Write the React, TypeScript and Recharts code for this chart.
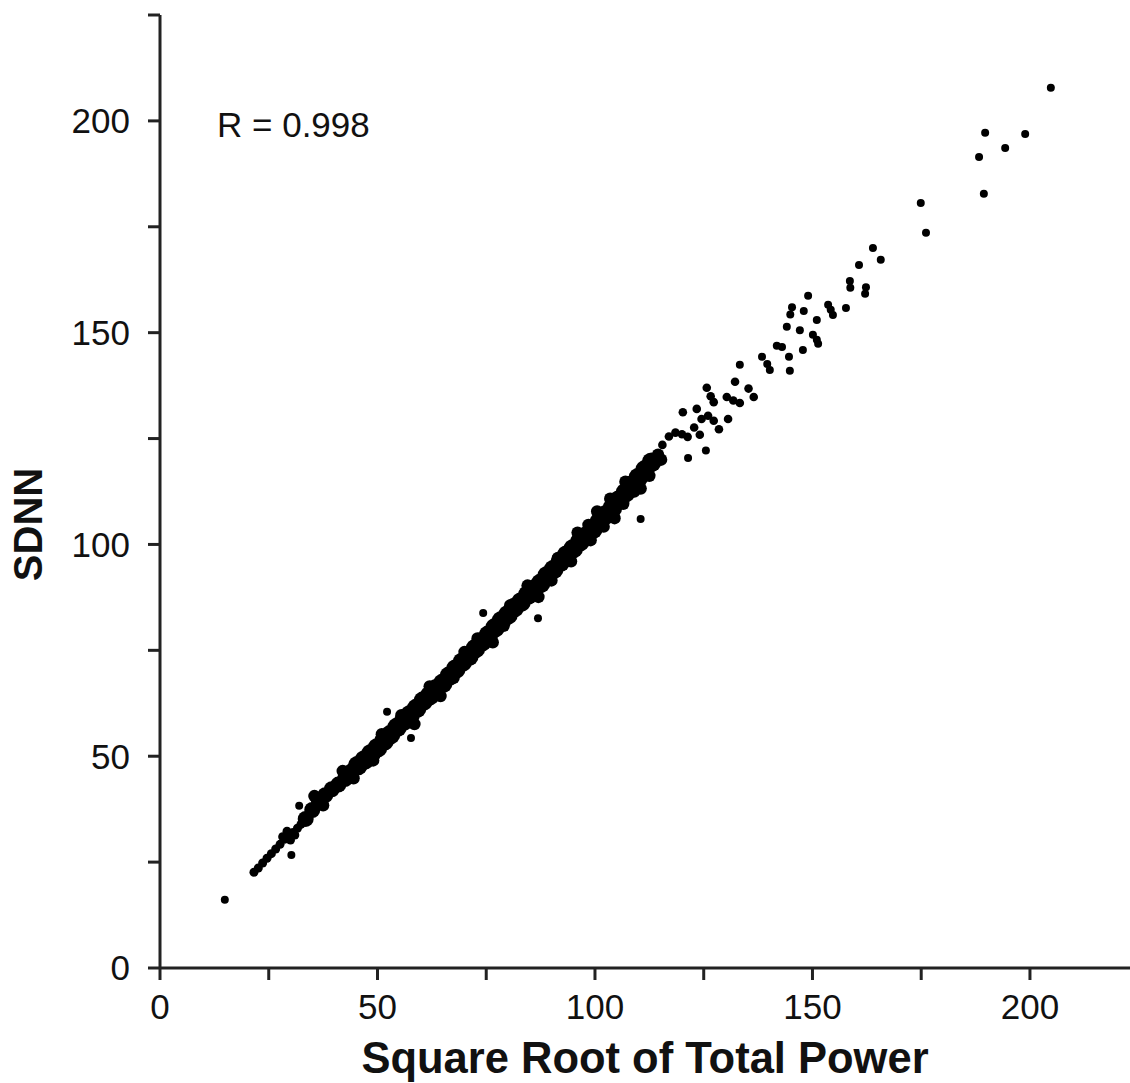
import React from 'react';
import { ScatterChart, Scatter, XAxis, YAxis, Label } from 'recharts';

// Axis tick values
const xTicks = [0, 25, 50, 75, 100, 125, 150, 175, 200];
const yTicks = [0, 25, 50, 75, 100, 125, 150, 175, 200, 225];

// Dense band, thin start
const bandThin: [number, number][] = [
  [21.6, 22.6], [22.6, 23.6], [23.6, 24.8], [24.6, 25.9], [25.6, 27.0], [26.6, 28.1],
  [27.6, 29.2], [28.6, 30.4], [29.6, 31.2], [30.6, 32.0], [31.6, 33.0], [32.4, 33.9],
  [29.2, 32.3], [31.0, 31.4], [28.2, 31.0], [30.0, 30.2],
];

// Dense band, lower body
const bandMid: [number, number][] = [
  [33.5, 35.2], [35, 37.3], [36.5, 39.6], [38, 40.8], [39.5, 42.2], [41, 43.3], [42.5, 44.6],
  [44, 46.4],
];

// Dense band, main body
const bandMain: [number, number][] = [
  [45.5, 47.8], [47, 49.1], [48.5, 50.6], [50, 52.0], [51.5, 53.6], [53, 55.1],
  [54.5, 56.8], [56, 58.3], [57.5, 59.8], [59, 61.3], [60.5, 63.0], [62, 64.3], [63.5, 65.9],
  [65, 67.2], [66.5, 68.9], [68, 70.6], [69.5, 72.2], [71, 73.6], [72.5, 75.4], [74, 77.0],
  [75.5, 78.6], [77, 80.3], [78.5, 82.0], [80, 83.4], [81.5, 85.1], [83, 86.4], [84.5, 88.0],
  [86, 89.4], [87.5, 90.8], [89, 92.6], [90.5, 94.1], [92, 95.8], [93.5, 97.5], [95, 99.0],
  [96.5, 100.6], [98, 102.0], [99.5, 103.6], [101, 105.3], [102.5, 107.0], [104, 108.6],
  [105.5, 110.5], [107, 112.2], [108.5, 114.0], [110, 115.8], [111.5, 117.6], [113, 119.4],
];

// Bumps along the band edges
const bandEdge: [number, number][] = [
  [35.5, 40.6], [37.5, 38.4], [42, 46.5], [44.5, 44.8], [49, 49], [51, 55.2], [55.5, 59.7],
  [58.5, 57.6], [62, 66.5], [64.5, 64.2], [67.5, 68.5], [70, 74.6], [73, 77.8], [76.5, 76.9],
  [79, 80.8], [80.5, 85.6], [84.5, 90.3], [87, 87.6], [90, 91.5], [91.5, 96.8], [96, 102.8],
  [94.5, 96.0], [99, 101], [103.5, 110.8], [104.5, 106.2], [106.5, 109.6], [109, 112.5],
  [100.5, 107.8], [107, 114.8], [110.5, 113.2], [102, 104.2], [98.5, 104.6], [112.5, 116.2],
  [114.5, 121.2], [115.2, 120.0],
];

// Fragmented upper end of the band
const bandUpper: [number, number][] = [
  [115.5, 123.5], [117, 125.5], [118.5, 126.4], [120, 126], [121.3, 125.4], [122.8, 127.6],
  [124.5, 129.6], [126, 130.4], [127.3, 129.2], [128.5, 127.2], [123.4, 132], [120.2, 131.2],
  [124.1, 125.9], [130.6, 129.6], [125.7, 137], [126.6, 135], [127.3, 133.6], [130.3, 134.8],
  [131.8, 134], [133.3, 133.4], [132.2, 138.4], [135.3, 136.8], [136.5, 134.8],
];

// Individual points
const sparse: [number, number][] = [
  [14.9, 16.1], [30.2, 26.7], [32.0, 38.3], [52.2, 60.5], [57.7, 54.3], [74.3, 83.8],
  [86.9, 82.6], [110.5, 106.0], [121.4, 120.4], [125.5, 122.2],
  [133.3, 142.4], [138.4, 144.3], [139.6, 142.6], [140.2, 141.2], [141.8, 146.9], [143.0, 146.6],
  [144.6, 144.3], [144.8, 141.0], [144.1, 151.4], [145.3, 156.0], [144.9, 154.3], [147.1, 150.6],
  [147.8, 145.9], [148.0, 155.1], [149.0, 158.7], [150.1, 149.5], [151.0, 148.3], [151.3, 147.4],
  [151.0, 153.0], [153.6, 156.6], [154.2, 155.4], [154.7, 154.2], [157.7, 155.8], [158.6, 162.2],
  [158.7, 160.6], [160.7, 166.0], [162.3, 160.7], [162.1, 159.2], [163.9, 170.0], [165.7, 167.2],
  [174.9, 180.6], [176.1, 173.6], [188.3, 191.5], [189.4, 182.8], [189.7, 197.2], [194.3, 193.6],
  [198.9, 196.9], [204.8, 207.8],
];

const FONT = '"Liberation Sans", Arial, Helvetica, sans-serif';
const INK = '#111';

const toPts = (arr: [number, number][]) => arr.map(([x, y]) => ({ x, y }));

const dot = (r: number) => (props: any) => (
  <circle cx={props.cx} cy={props.cy} r={r} fill="#000" />
);

const SdnnLabel = (props: any) => {
  const vb = props.viewBox || { x: 0, y: 0, width: 0, height: 0 };
  const cx = vb.x + 28;
  const cy = vb.y + vb.height / 2 + 33;
  return (
    <text
      x={cx}
      y={cy}
      transform={`rotate(-90 ${cx} ${cy})`}
      textAnchor="middle"
      dominantBaseline="central"
      fontFamily={FONT}
      fontWeight="bold"
      fontSize={40}
      fill={INK}
    >
      SDNN
    </text>
  );
};

const fmt50 = (v: number) => (v % 50 === 0 && v <= 200 ? String(v) : '');

export default function App() {
  const axisStroke = { stroke: '#222', strokeWidth: 3 };
  const tickStyle = { fontSize: 35, fill: INK, fontFamily: FONT };
  return (
    <div style={{ position: 'absolute', left: 0, top: 0, width: 1130, height: 1083, background: '#fff' }}>
      <ScatterChart width={1130} height={1083} margin={{ top: 15, right: 0, bottom: 0, left: 0 }}>
        <XAxis
          type="number"
          dataKey="x"
          domain={[0, 223]}
          ticks={xTicks}
          interval={0}
          allowDataOverflow
          height={115}
          tickSize={12}
          tickMargin={14}
          tickFormatter={fmt50}
          tick={tickStyle}
          axisLine={axisStroke}
          tickLine={axisStroke}
        >
          <Label
            value="Square Root of Total Power"
            position="insideBottom"
            offset={10}
            style={{ fontSize: 43.5, fontWeight: 'bold', fontFamily: FONT, fill: INK }}
          />
        </XAxis>
        <YAxis
          type="number"
          dataKey="y"
          domain={[0, 225]}
          ticks={yTicks}
          interval={0}
          allowDataOverflow
          width={160}
          tickSize={12}
          tickMargin={18}
          tickFormatter={fmt50}
          tick={tickStyle}
          axisLine={axisStroke}
          tickLine={axisStroke}
        >
          <Label content={SdnnLabel} />
        </YAxis>
        <Scatter data={toPts(bandThin)} shape={dot(4.5)} isAnimationActive={false} />
        <Scatter data={toPts(bandMid)} shape={dot(8)} isAnimationActive={false} />
        <Scatter data={toPts(bandMain)} shape={dot(9.8)} isAnimationActive={false} />
        <Scatter data={toPts(bandEdge)} shape={dot(6.2)} isAnimationActive={false} />
        <Scatter data={toPts(bandUpper)} shape={dot(4.3)} isAnimationActive={false} />
        <Scatter data={toPts(sparse)} shape={dot(4)} isAnimationActive={false} />
      </ScatterChart>
      <div
        style={{
          position: 'absolute',
          left: 217,
          top: 107,
          fontFamily: FONT,
          fontSize: 35,
          lineHeight: '35px',
          color: INK,
          whiteSpace: 'nowrap',
        }}
      >
        R = 0.998
      </div>
    </div>
  );
}
